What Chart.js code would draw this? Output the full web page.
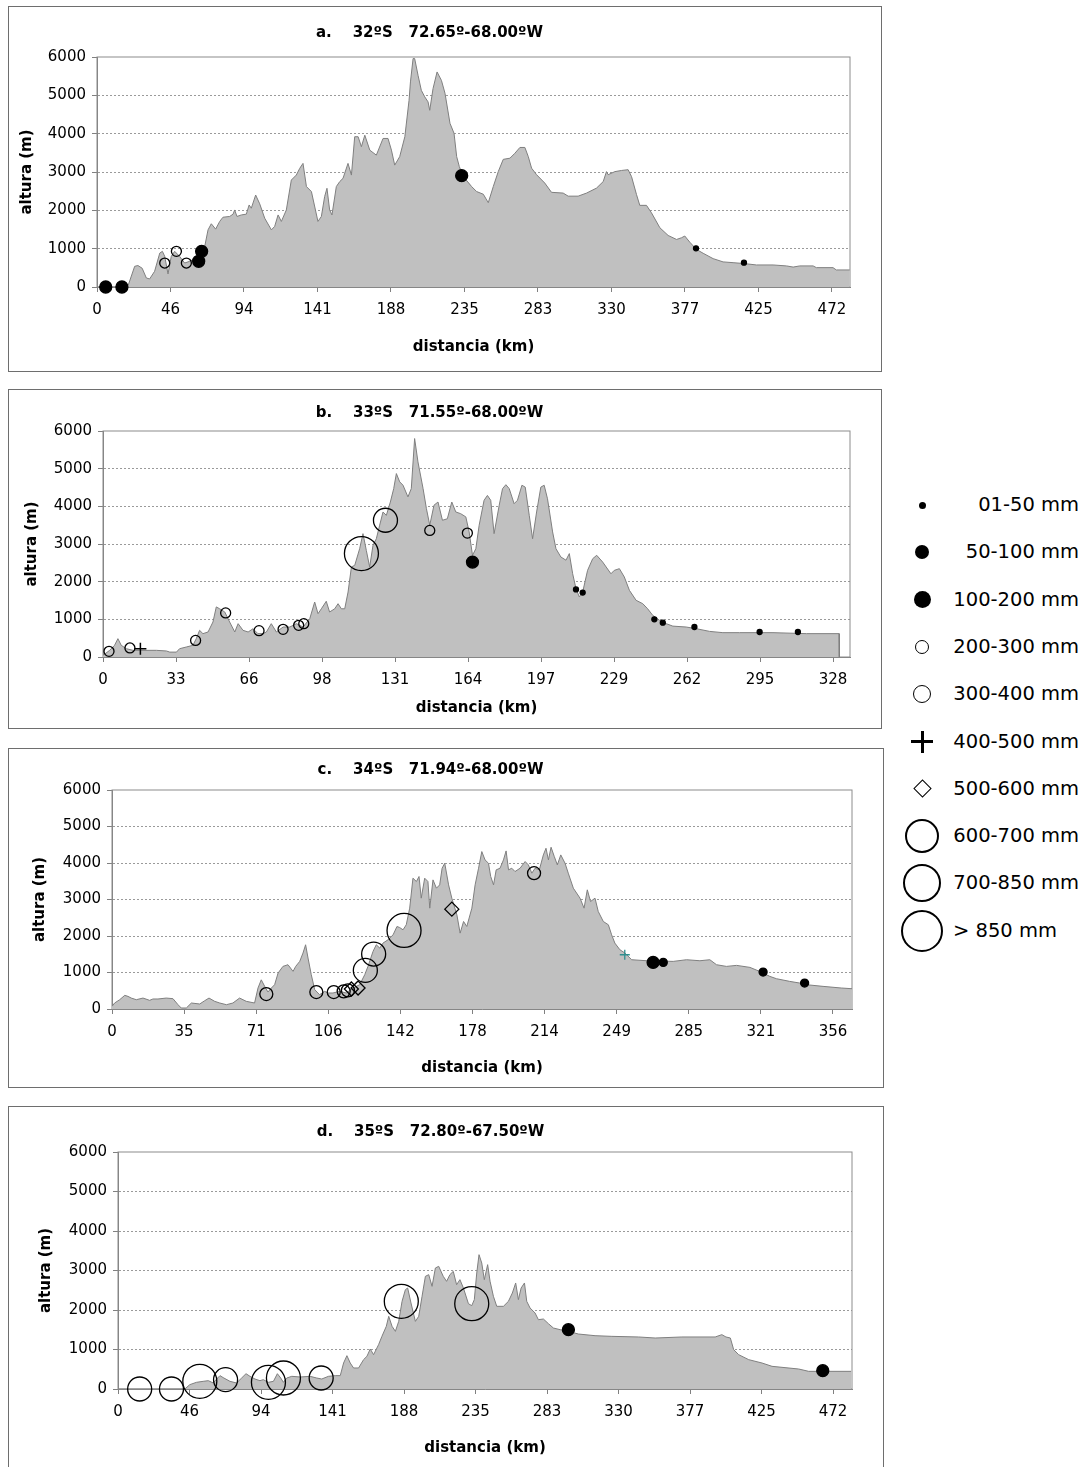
<!DOCTYPE html>
<html>
<head>
<meta charset="utf-8">
<script src="https://cdn.jsdelivr.net/npm/chart.js@4.4.1/dist/chart.umd.min.js"></script>
<style>
  body { margin: 0; background: #fff; width: 1089px; height: 1467px; overflow: hidden; position: relative; font-family: 'DejaVu Sans', sans-serif; }
  .box { position: absolute; border: 1px solid #6e6e6e; background: #fff; }
  .box canvas { display: block; }
  .mk { position: absolute; box-sizing: border-box; }
  .lbl { position: absolute; left: 953px; width: 126px; text-align: right; font-size: 19.5px; line-height: 24px; color: #000; white-space: nowrap; }
</style>
</head>
<body>
<div class="box" style="left:8px;top:6px;width:872px;height:364px"><canvas id="cA" width="872" height="364"></canvas></div>
<div class="box" style="left:8px;top:389px;width:872px;height:338px"><canvas id="cB" width="872" height="338"></canvas></div>
<div class="box" style="left:8px;top:748px;width:874px;height:338px"><canvas id="cC" width="874" height="338"></canvas></div>
<div class="box" style="left:8px;top:1106px;width:874px;height:362px"><canvas id="cD" width="874" height="362"></canvas></div>
<div id="legend"></div>

<script>
// precipitation classes (legend order)
const rainCats = ['01-50 mm', '50-100 mm', '100-200 mm', '200-300 mm', '300-400 mm',
                  '400-500 mm', '500-600 mm', '600-700 mm', '700-850 mm', '> 850 mm'];

// a. 32ºS
const aTitle = 'a.    32ºS   72.65º-68.00ºW';
const aTicks = ['0', '46', '94', '141', '188', '235', '283', '330', '377', '425', '472'];
const aDist = [0, 19, 20, 24.2, 26.3, 29, 31.7, 33.8, 37, 40.3, 42, 43.5, 45.6, 47.7, 49.9, 53, 56.3, 59.5, 63.8, 67, 69.2, 71.3, 73.4, 76.2, 78.8, 80.9, 85.2, 87.4, 88.4, 89.9, 92.7, 95.9, 97.7, 99.1, 101.9, 104.5, 107.7, 112, 114.1, 116.3, 118.4, 121.6, 124.8, 128, 130.2, 132.3, 134.5, 137.7, 141.9, 144.1, 146.2, 147.7, 149.4, 150.9, 153.7, 155.9, 158, 161.2, 163.4, 165.5, 167.7, 169.8, 172, 175.2, 179.4, 183.7, 186.9, 189.1, 191.2, 194.4, 197.7, 200.4, 201.3, 203, 204, 206.2, 208.3, 210.5, 212.6, 213.7, 215.8, 218.4, 221.2, 223.5, 226.7, 229.3, 231, 232.7, 235.3, 240.6, 243.8, 248.1, 251.3, 254.5, 257.7, 260.9, 265.2, 268.4, 271.6, 274.8, 277, 279.1, 282.3, 287.6, 291.9, 299.4, 302.6, 309, 314.4, 320.8, 325.1, 327.2, 328.3, 332.6, 336.9, 341.1, 343.3, 346.5, 348.6, 352.9, 356.1, 361.5, 366.8, 372.2, 375.4, 377.5, 380.7, 385, 389.3, 395.7, 402.1, 408.5, 416, 423.5, 434.2, 442.8, 447.1, 451.3, 459.9, 462, 472.7, 474.8, 483.4];
const aAlt = [0, 0, 40, 540, 560, 490, 235, 210, 410, 885, 930, 800, 340, 800, 930, 800, 625, 670, 755, 885, 1060, 1490, 1650, 1510, 1710, 1820, 1840, 1900, 2010, 1840, 1880, 1900, 2140, 2055, 2400, 2170, 1795, 1490, 1580, 1880, 1710, 2010, 2790, 2920, 3095, 3225, 2620, 2490, 1710, 1840, 2360, 2575, 2010, 1880, 2620, 2750, 2835, 3225, 2920, 3920, 3920, 3660, 3960, 3570, 3440, 3875, 3875, 3570, 3180, 3400, 3920, 4870, 5350, 5960, 5960, 5520, 5130, 4960, 4830, 4610, 5175, 5610, 5390, 5053, 4270, 4010, 3400, 3140, 2880, 2620, 2490, 2420, 2200, 2620, 3010, 3330, 3360, 3490, 3640, 3640, 3400, 3100, 2930, 2710, 2470, 2450, 2370, 2370, 2450, 2580, 2750, 3010, 2930, 3010, 3040, 3060, 2880, 2410, 2130, 2130, 1935, 1545, 1345, 1240, 1285, 1330, 1170, 980, 880, 740, 655, 635, 610, 575, 575, 550, 520, 550, 550, 505, 505, 445, 445];
const aMarkDist = [5.6, 16, 43.5, 51, 57.4, 65.3, 67.2, 234.2, 384.7, 415.5];
const aMarkAlt = [0, 0, 625, 930, 625, 670, 930, 2905, 1009, 635];
const aMarkCat = [2, 2, 3, 3, 3, 2, 2, 2, 0, 0];

// b. 33ºS
const bTitle = 'b.    33ºS   71.55º-68.00ºW';
const bTicks = ['0', '33', '66', '98', '131', '164', '197', '229', '262', '295', '328'];
const bDist = [0, 3, 5.2, 6.7, 8.2, 10.5, 13.5, 16.5, 24, 28.5, 30, 33, 34.4, 37.4, 40.4, 41.9, 43.4, 44.9, 47.2, 49.4, 50.9, 52.4, 54.7, 56.9, 59.2, 60.7, 62.9, 65.2, 67.4, 69.6, 71.9, 73.4, 75.6, 77.9, 80.9, 83.9, 86.9, 89.9, 92.9, 95.1, 96.6, 98.1, 100.3, 101.8, 104.1, 105.6, 107.1, 108.6, 110.1, 111.6, 113.1, 115.3, 116.8, 118.3, 119.8, 121.3, 122.8, 124.3, 125.8, 127.3, 129.1, 130.6, 131.8, 133.3, 134.8, 137, 138.5, 140, 141.5, 143.8, 145.3, 146.8, 148.7, 150.5, 152.5, 154.7, 156.7, 158.5, 160.7, 163, 164.5, 166, 167.5, 169, 171.2, 172.7, 174.2, 175.7, 178, 179.5, 181, 182.5, 184.7, 186.2, 188.2, 189.7, 191.5, 193, 194.8, 196.7, 198.2, 199.7, 202, 203.5, 205.7, 208, 209.5, 211, 212.5, 214, 215.5, 217.7, 220, 221.8, 224.5, 228.2, 229.7, 232, 234.2, 236.5, 239.5, 242.5, 244.7, 247, 250, 253, 256, 262, 266.5, 272.5, 278.5, 286, 301, 316, 330.7, 330.8];
const bAlt = [45, 177, 310, 487, 310, 220, 177, 177, 177, 160, 130, 130, 220, 265, 310, 487, 708, 620, 664, 930, 1330, 1280, 1195, 930, 664, 885, 708, 664, 750, 620, 620, 664, 885, 664, 796, 796, 885, 796, 1020, 1460, 1150, 1280, 1480, 1195, 1280, 1415, 1280, 1280, 1725, 2390, 2435, 2875, 3275, 2830, 2390, 2965, 3140, 3500, 3850, 3760, 4115, 4470, 4870, 4650, 4560, 4250, 4470, 5800, 5180, 4470, 3940, 3500, 4030, 4115, 3630, 3670, 4115, 3850, 3805, 3720, 3320, 2700, 2875, 3500, 4160, 4290, 4160, 3275, 4030, 4470, 4575, 4470, 4070, 4160, 4560, 4510, 3760, 3140, 3850, 4510, 4560, 4200, 3320, 2875, 2655, 2570, 2745, 2210, 1815, 1595, 1725, 2300, 2610, 2700, 2520, 2210, 2300, 2345, 2125, 1770, 1505, 1415, 1280, 1105, 975, 885, 820, 796, 752, 680, 646, 646, 646, 620, 620, 0];
const bMarkDist = [2.7, 12.1, 16.8, 41.6, 55.1, 70.1, 80.9, 87.9, 90.2, 116.1, 126.9, 146.8, 163.7, 166, 212.5, 215.5, 247.7, 251.5, 265.7, 295, 312.2];
const bMarkAlt = [150, 240, 220, 440, 1170, 700, 735, 840, 885, 2745, 3630, 3360, 3290, 2520, 1795, 1710, 1000, 910, 796, 664, 664];
const bMarkCat = [3, 3, 5, 3, 3, 3, 3, 3, 3, 9, 8, 3, 3, 2, 0, 0, 0, 0, 0, 0, 0];

// c. 34ºS
const cTitle = 'c.    34ºS   71.94º-68.00ºW';
const cTicks = ['0', '35', '71', '106', '142', '178', '214', '249', '285', '321', '356'];
const cDist = [0, 1.3, 3.8, 6.3, 7.9, 9.5, 12, 15.3, 18.6, 20.2, 22.7, 26.8, 30.1, 32.6, 34.2, 36.7, 39.2, 43.3, 45.8, 47.9, 50.7, 53.2, 56.5, 59.7, 63, 66.3, 70.4, 72.1, 73.7, 75.4, 77, 78.7, 80.3, 82, 84.4, 86.9, 89.4, 90.7, 92.7, 94.3, 95.6, 96.8, 98.4, 100.1, 102.5, 105, 106.7, 109.1, 112.4, 115.7, 119, 122.3, 124.8, 126.4, 128.9, 130.5, 132.2, 133.8, 136.3, 138.8, 140.7, 142, 143.7, 145.3, 147, 148.6, 150.3, 151.6, 152.7, 154.4, 156, 156.9, 158.5, 160.2, 161.8, 163, 164.3, 166.2, 167.8, 170.3, 171.9, 173.6, 175.2, 177.7, 179.3, 181, 182.6, 184.2, 185.9, 187, 188.4, 189.7, 191.6, 193.3, 194.6, 195.8, 197.4, 199, 201.5, 204, 205.6, 207.3, 208.9, 211, 213, 214.3, 215.5, 216.8, 218.4, 219.9, 221.6, 223.7, 225.3, 227.8, 231.1, 233.1, 234.7, 236.3, 238.5, 240.1, 242.6, 245.1, 246.7, 248.3, 250.8, 253.3, 256.6, 264, 277.1, 283.7, 290.3, 295.2, 298.5, 303.4, 308.4, 315, 319.8, 324.8, 328.1, 334.6, 339.6, 342.9, 351.1, 360.1, 365.4];
const cAlt = [73, 164, 255, 374, 346, 300, 255, 300, 237, 274, 274, 300, 283, 118, 27, 27, 164, 137, 228, 300, 210, 164, 118, 164, 300, 210, 164, 575, 800, 620, 465, 575, 665, 985, 1167, 1213, 1030, 1167, 1304, 1532, 1760, 1395, 940, 530, 392, 483, 438, 438, 483, 438, 575, 665, 940, 1167, 1578, 1760, 1669, 1805, 1897, 2033, 2260, 2234, 2170, 2307, 2763, 3584, 3493, 3630, 3037, 3584, 3493, 2763, 3538, 3310, 3401, 3857, 3994, 3401, 3037, 2580, 2079, 2398, 2261, 2763, 3401, 3857, 4313, 4085, 3994, 3630, 3401, 3812, 3857, 4085, 4331, 3812, 3857, 3766, 3857, 4040, 3948, 3721, 3857, 3812, 4222, 4404, 4085, 4432, 4176, 3948, 4222, 3994, 3721, 3310, 3037, 2763, 3265, 2945, 3037, 2672, 2398, 2307, 2033, 1806, 1623, 1532, 1350, 1322, 1304, 1350, 1322, 1350, 1213, 1167, 1195, 1140, 1030, 894, 830, 757, 711, 666, 620, 575, 556];
const cMarkDist = [76.2, 100.9, 109.5, 114.4, 116.5, 118.2, 121.5, 125.1, 129.2, 144.2, 167.8, 208.4, 253.2, 267.2, 272.2, 321.5, 342];
const cMarkAlt = [410, 465, 465, 483, 510, 547, 575, 1058, 1505, 2152, 2736, 3721, 1486, 1277, 1277, 1012, 711];
const cMarkCat = [4, 4, 4, 4, 4, 6, 6, 8, 8, 9, 6, 4, 10, 2, 1, 1, 1];

// d. 35ºS
const dTitle = 'd.    35ºS   72.80º-67.50ºW';
const dTicks = ['0', '46', '94', '141', '188', '235', '283', '330', '377', '425', '472'];
const dDist = [0, 44.1, 47.4, 51.8, 56.2, 59.6, 62.9, 65.1, 67.3, 69.9, 73.9, 78.3, 81.6, 84.5, 87.1, 90.4, 93.7, 95.9, 99.3, 102.6, 105.2, 107.4, 109.2, 111.4, 114.7, 120.2, 126.8, 131.2, 134.5, 138.9, 143.4, 146.7, 148.9, 151.1, 153.3, 155.5, 158.8, 162.1, 164.3, 166.5, 168.7, 172, 174.2, 177.1, 178.7, 180.9, 183.1, 185.3, 187.5, 189.7, 191.2, 193.4, 196.3, 198.5, 200.7, 202.9, 205.1, 207.3, 209.5, 211.7, 214.7, 216.9, 219.1, 221.3, 223.5, 225.7, 228, 231.3, 233.5, 235.2, 236.8, 238.3, 240.1, 241.8, 244, 245.6, 247.8, 250, 254.4, 257.7, 260.3, 262.5, 264.3, 266.1, 268.3, 269.8, 272, 275.3, 277.5, 280.8, 284.1, 287.4, 291.8, 297.3, 303.9, 314.9, 326, 343.6, 354.6, 372.2, 394.2, 398.6, 401.3, 404.2, 406.4, 409.7, 416.3, 425.1, 431.7, 449.3, 455.9, 483.9];
const dAlt = [0, 0, 110, 169, 194, 211, 152, 253, 338, 278, 194, 152, 278, 388, 321, 253, 211, 236, 169, 194, 388, 278, 169, 278, 321, 304, 321, 278, 253, 321, 338, 338, 658, 844, 658, 532, 532, 743, 827, 1013, 869, 1122, 1333, 1587, 1840, 1587, 1460, 1713, 2219, 2515, 2557, 2177, 1713, 1840, 2346, 2852, 2895, 2599, 3063, 3106, 2852, 2726, 2895, 2979, 2641, 2768, 2557, 2160, 2110, 2262, 2937, 3401, 3190, 2768, 3148, 2726, 2346, 2093, 2093, 2219, 2430, 2684, 2262, 2557, 2684, 2219, 2051, 1924, 1755, 1772, 1654, 1544, 1502, 1460, 1392, 1350, 1333, 1317, 1291, 1317, 1317, 1376, 1317, 1291, 996, 869, 743, 658, 574, 506, 447, 447];
const dMarkDist = [14.3, 35.3, 54, 71, 99.3, 109.2, 134.1, 187, 233.5, 297.3, 465.2];
const dMarkAlt = [0, 0, 194, 236, 169, 278, 278, 2219, 2160, 1502, 464];
const dMarkCat = [8, 8, 9, 8, 9, 9, 8, 9, 9, 2, 2];

// marker look per class (index 10 = the small teal cross without legend entry)
const markStyle = [
  { r: 2.5, fill: true },
  { r: 4, fill: true },
  { r: 6, fill: true },
  { r: 5 },
  { r: 6.5 },
  { r: 6, shape: 'cross', w: 1.5 },
  { r: 7, shape: 'rectRot' },
  { r: 10 },
  { r: 12 },
  { r: 17 },
  { r: 5, shape: 'cross', color: '#2f8f8f' }
];

Chart.defaults.font.family = "'DejaVu Sans', sans-serif";
Chart.defaults.font.size = 15;
Chart.defaults.color = '#000';

const framePlugin = {
  id: 'frame',
  beforeDatasetsDraw(chart) {
    const { ctx, chartArea: a } = chart;
    ctx.save();
    ctx.strokeStyle = '#8c8c8c';
    ctx.lineWidth = 1;
    ctx.strokeRect(a.left, a.top, a.right - a.left, a.bottom - a.top);
    ctx.restore();
  }
};

function markerSets(dist, alt, cat) {
  const sets = [];
  markStyle.forEach(function (st, c) {
    const pts = [];
    cat.forEach(function (k, i) { if (k === c) pts.push({ x: dist[i], y: alt[i] }); });
    if (!pts.length) return;
    sets.push({
      type: 'scatter',
      data: pts,
      order: 0,
      clip: false,
      showLine: false,
      pointStyle: st.shape || 'circle',
      pointRadius: st.r,
      pointHoverRadius: st.r,
      pointBackgroundColor: st.fill ? '#000' : 'rgba(0,0,0,0)',
      pointBorderColor: st.color || '#000',
      pointBorderWidth: st.w || 1.3
    });
  });
  return sets;
}

function panel(id, p) {
  const datasets = [{
    type: 'line',
    data: p.dist.map(function (d, i) { return { x: d, y: p.alt[i] }; }),
    order: 1,
    fill: 'origin',
    backgroundColor: '#c0c0c0',
    borderColor: '#7f7f7f',
    borderWidth: 1,
    pointRadius: 0,
    tension: 0
  }].concat(markerSets(p.markDist, p.markAlt, p.markCat));

  new Chart(document.getElementById(id), {
    type: 'line',
    data: { datasets: datasets },
    plugins: [framePlugin],
    options: {
      responsive: false,
      animation: false,
      events: [],
      layout: { padding: { left: 0, right: 31, top: 0, bottom: 0 } },
      plugins: {
        legend: { display: false },
        tooltip: { enabled: false },
        title: {
          display: true,
          text: p.title,
          color: '#000',
          font: { size: 15, weight: 'bold' },
          padding: { top: p.tTop, bottom: p.tBottom }
        }
      },
      scales: {
        x: {
          type: 'linear',
          min: 0,
          max: p.xMax,
          afterBuildTicks: function (ax) { ax.ticks = p.ticks.map(function (t, i) { return { value: i * p.step }; }); },
          afterFit: function (ax) { ax.height = p.xH; },
          ticks: { autoSkip: false, maxRotation: 0, padding: 9, callback: function (v, i) { return p.ticks[i]; } },
          grid: { drawOnChartArea: false, tickLength: 5, color: '#808080' },
          border: { color: '#808080' },
          title: { display: true, text: 'distancia (km)', font: { size: 15, weight: 'bold' }, padding: { top: 0, bottom: p.xtPad } }
        },
        y: {
          min: 0,
          max: 6000,
          afterFit: function (ax) { ax.width = p.yW; },
          ticks: { stepSize: 1000, padding: 6, callback: function (v) { return String(v); } },
          grid: {
            color: function (c) { return (c.tick && c.tick.value > 0 && c.tick.value < 6000) ? '#9a9a9a' : 'rgba(0,0,0,0)'; },
            tickColor: '#808080',
            tickLength: 5
          },
          border: { color: '#808080', dash: [2, 2] },
          title: { display: true, text: 'altura (m)', font: { size: 15, weight: 'bold' }, padding: { top: p.ytPad, bottom: 0 } }
        }
      }
    }
  });
}

panel('cA', { title: aTitle, ticks: aTicks, step: 47.2, xMax: 483.6, dist: aDist, alt: aAlt,
  markDist: aMarkDist, markAlt: aMarkAlt, markCat: aMarkCat,
  yW: 88, tTop: 17, tBottom: 15, xH: 84, xtPad: 15, ytPad: 9 });
panel('cB', { title: bTitle, ticks: bTicks, step: 32.8, xMax: 335.6, dist: bDist, alt: bAlt,
  markDist: bMarkDist, markAlt: bMarkAlt, markCat: bMarkCat,
  yW: 94, tTop: 14, tBottom: 9, xH: 71, xtPad: 11, ytPad: 14 });
panel('cC', { title: cTitle, ticks: cTicks, step: 35.6, xMax: 365.4, dist: cDist, alt: cAlt,
  markDist: cMarkDist, markAlt: cMarkAlt, markCat: cMarkCat,
  yW: 103, tTop: 12, tBottom: 11, xH: 78, xtPad: 10, ytPad: 22 });
panel('cD', { title: dTitle, ticks: dTicks, step: 47.2, xMax: 484.5, dist: dDist, alt: dAlt,
  markDist: dMarkDist, markAlt: dMarkAlt, markCat: dMarkCat,
  yW: 109, tTop: 16, tBottom: 11, xH: 80, xtPad: 12, ytPad: 28 });

// legend on the right
const legSize = [7, 14, 17, 14, 18, 22, 13, 34, 38, 42];
const leg = document.getElementById('legend');
rainCats.forEach(function (name, i) {
  const cy = 505 + i * 47.3;
  const cx = 922;
  const s = legSize[i];
  const m = document.createElement('div');
  m.className = 'mk';
  if (i === 5) {
    // plus sign
    m.style.cssText = 'left:' + (cx - s / 2) + 'px;top:' + (cy - s / 2) + 'px;width:' + s + 'px;height:' + s + 'px;' +
      'background:linear-gradient(#000,#000) center/100% 3px no-repeat,linear-gradient(#000,#000) center/3px 100% no-repeat;';
  } else if (i === 6) {
    m.style.cssText = 'left:' + (cx - s / 2) + 'px;top:' + (cy - s / 2) + 'px;width:' + s + 'px;height:' + s + 'px;' +
      'border:1.8px solid #000;transform:rotate(45deg);background:#fff;';
  } else {
    const filled = i < 3;
    const bw = i >= 7 ? 2 : 1.5;
    m.style.cssText = 'left:' + (cx - s / 2) + 'px;top:' + (cy - s / 2) + 'px;width:' + s + 'px;height:' + s + 'px;border-radius:50%;' +
      (filled ? 'background:#000;' : 'background:#fff;border:' + bw + 'px solid #000;');
  }
  leg.appendChild(m);
  const t = document.createElement('div');
  t.className = 'lbl';
  t.textContent = name;
  t.style.top = (cy - 12) + 'px';
  if (i === rainCats.length - 1) t.style.textAlign = 'left';
  leg.appendChild(t);
});
</script>
</body>
</html>
